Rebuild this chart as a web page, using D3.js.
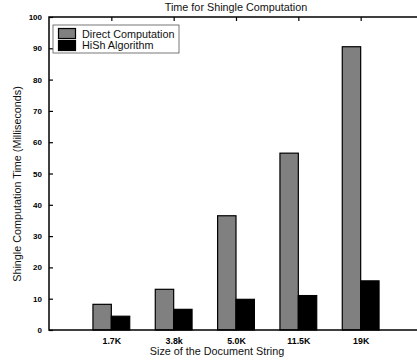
<!DOCTYPE html>
<html>
<head>
<meta charset="utf-8">
<script src="https://cdn.jsdelivr.net/npm/d3@7"></script>
<style>
  body { margin: 0; background: #fff; }
  svg { display: block; font-family: "Liberation Sans", Arial, sans-serif; }
</style>
</head>
<body>
<script>
// Chart data
const categories = ['1.7K', '3.8k', '5.0K', '11.5K', '19K'];
const directValues = [8.2, 13.0, 36.5, 56.5, 90.5];
const hishValues = [4.4, 6.6, 9.8, 11.0, 15.7];
const seriesNames = ['Direct Computation', 'HiSh Algorithm'];
const seriesColors = ['#808080', '#000000'];
const yTicks = [0, 10, 20, 30, 40, 50, 60, 70, 80, 90, 100];

const width = 417, height = 364;
const margin = { left: 49, top: 17, right: 423, bottom: 330 };

const svg = d3.select('body')
    .append('svg')
    .attr('width', width)
    .attr('height', height);

// Scales: categories sit at 1..5 on a 0..6 linear axis
const xScale = d3.scaleLinear()
    .domain([0, categories.length + 1])
    .range([margin.left, margin.right]);

const yScale = d3.scaleLinear()
    .domain([0, 100])
    .range([margin.bottom, margin.top]);

const barW = (xScale(1) - xScale(0)) * 0.295;

// Bars
const series = [directValues, hishValues];
series.forEach((vals, s) => {
    svg.append('g')
        .selectAll('rect')
        .data(vals)
        .enter()
        .append('rect')
        .attr('x', (d, i) => xScale(i + 1) + (s - 1) * barW)
        .attr('y', d => yScale(d))
        .attr('width', barW)
        .attr('height', d => yScale(0) - yScale(d))
        .attr('fill', seriesColors[s])
        .attr('stroke', '#000')
        .attr('stroke-width', 1.2);
});

// Frame
svg.append('rect')
    .attr('x', margin.left)
    .attr('y', margin.top)
    .attr('width', margin.right - margin.left)
    .attr('height', margin.bottom - margin.top)
    .attr('fill', 'none')
    .attr('stroke', '#000')
    .attr('stroke-width', 1.5);

// Left axis, ticks pointing inward
const yAxis = d3.axisLeft(yScale)
    .tickValues(yTicks)
    .tickSize(-4)
    .tickPadding(7)
    .tickFormat(d3.format('d'));

const gy = svg.append('g')
    .attr('transform', `translate(${margin.left},0)`)
    .call(yAxis);
gy.select('.domain').remove();
gy.selectAll('line').attr('stroke', '#000').attr('stroke-width', 1.2);
gy.selectAll('text')
    .attr('font-size', 8)
    .attr('font-weight', 'bold')
    .attr('font-family', '"Liberation Sans", Arial, sans-serif')
    .attr('fill', '#000');

// Right axis ticks (inward)
const gyr = svg.append('g')
    .attr('transform', `translate(${margin.right},0)`)
    .call(d3.axisRight(yScale).tickValues(yTicks).tickSize(-4).tickFormat(''));
gyr.select('.domain').remove();
gyr.selectAll('line').attr('stroke', '#000').attr('stroke-width', 1.2);

// Top axis ticks (inward)
const catTicks = categories.map((c, i) => i + 1);
const gxt = svg.append('g')
    .attr('transform', `translate(0,${margin.top})`)
    .call(d3.axisTop(xScale).tickValues(catTicks).tickSize(-4).tickFormat(''));
gxt.select('.domain').remove();
gxt.selectAll('line').attr('stroke', '#000').attr('stroke-width', 1.2);

// Bottom axis labels
const gx = svg.append('g')
    .attr('transform', `translate(0,${margin.bottom})`)
    .call(d3.axisBottom(xScale)
        .tickValues(catTicks)
        .tickSize(0)
        .tickPadding(8)
        .tickFormat((d, i) => categories[i]));
gx.select('.domain').remove();
gx.selectAll('text')
    .attr('font-size', 8.8)
    .attr('font-weight', 'bold')
    .attr('font-family', '"Liberation Sans", Arial, sans-serif')
    .attr('fill', '#000');

// Titles
svg.append('text')
    .attr('x', 236)
    .attr('y', 11)
    .attr('text-anchor', 'middle')
    .attr('font-size', 10.8)
    .attr('fill', '#111')
    .text('Time for Shingle Computation');

svg.append('text')
    .attr('x', 217)
    .attr('y', 355)
    .attr('text-anchor', 'middle')
    .attr('font-size', 10.8)
    .attr('fill', '#111')
    .text('Size of the Document String');

svg.append('text')
    .attr('transform', 'translate(21,184) rotate(-90)')
    .attr('text-anchor', 'middle')
    .attr('font-size', 10.8)
    .attr('fill', '#111')
    .text('Shingle Computation Time (Milliseconds)');

// Legend
const legend = svg.append('g');
legend.append('rect')
    .attr('x', 53).attr('y', 25)
    .attr('width', 126).attr('height', 28)
    .attr('fill', '#fff')
    .attr('stroke', '#555')
    .attr('stroke-width', 0.8);

seriesNames.forEach((name, i) => {
    legend.append('rect')
        .attr('x', 58.5)
        .attr('y', 28.5 + i * 12)
        .attr('width', 17)
        .attr('height', 10)
        .attr('fill', seriesColors[i])
        .attr('stroke', '#000')
        .attr('stroke-width', 1.2);
    legend.append('text')
        .attr('x', 82)
        .attr('y', 37.5 + i * 11.5)
        .attr('font-size', 10.8)
        .attr('fill', '#111')
        .text(name);
});
</script>
</body>
</html>
